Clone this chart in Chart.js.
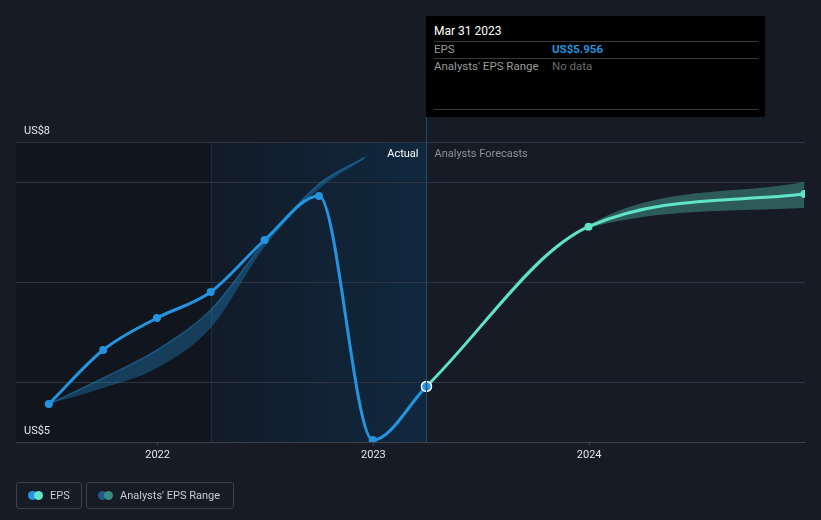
<!DOCTYPE html>
<html>
<head>
<meta charset="utf-8">
<script src="https://cdn.jsdelivr.net/npm/chart.js@4.4.0/dist/chart.umd.min.js"></script>
<style>
  html, body { margin: 0; padding: 0; background: #161b26; }
  body { width: 821px; height: 520px; position: relative; overflow: hidden; font-family: Roboto, "Noto Sans", sans-serif; }
  #wrap { position: absolute; left: 0; top: 0; width: 821px; height: 520px; }
  .tip { position: absolute; left: 426px; top: 16px; width: 339px; height: 101px; background: #000; }
  .tip .date { position: absolute; left: 8px; top: 8px; color: #fff; font-size: 12px; }
  .tip .sep { position: absolute; left: 8px; width: 324px; height: 1px; background: #3a3a3a; }
  .tip .row { position: absolute; left: 8px; font-size: 11.5px; color: #9a9a9a; }
  .tip .val { position: absolute; left: 126px; font-size: 11.5px; }
  .legend { position: absolute; top: 482px; height: 27px; border: 1px solid #3b404b; border-radius: 3px; box-sizing: border-box; color: #c9ccd1; font-size: 11px; line-height: 25px; }
  .legend .dot { position: absolute; top: 8px; width: 9px; height: 9px; border-radius: 50%; }
  .legend span.t { position: absolute; top: 0; }
</style>
</head>
<body>
<div id="wrap"><canvas id="c" width="821" height="520"></canvas></div>

<div class="tip">
  <div class="date">Mar 31 2023</div>
  <div class="sep" style="top:25px"></div>
  <div class="row" style="top:26px">EPS</div>
  <div class="val" style="top:26px;color:#2394df;font-weight:bold">US$5.956</div>
  <div class="sep" style="top:42px"></div>
  <div class="row" style="top:43px">Analysts' EPS Range</div>
  <div class="val" style="top:43px;color:#6b6b6b">No data</div>
  <div class="sep" style="top:93px"></div>
</div>

<div class="legend" style="left:16px;width:66px">
  <div class="dot" style="left:11px;background:#2394df"></div>
  <div class="dot" style="left:17px;background:#5fe3c9"></div>
  <span class="t" style="left:33px">EPS</span>
</div>
<div class="legend" style="left:86px;width:148px">
  <div class="dot" style="left:11px;background:#1f5a8a"></div>
  <div class="dot" style="left:17px;background:#3b8a80"></div>
  <span class="t" style="left:33px">Analysts' EPS Range</span>
</div>

<script>
// quarter-end dates as decimal years
const actualDates = [2021.496, 2021.748, 2021.997, 2022.246, 2022.496, 2022.748, 2022.997, 2023.246];
const actualEps = [5.78, 6.32, 6.64, 6.90, 7.42, 7.86, 5.42, 5.956];

const forecastDates = [2023.246, 2023.997, 2024.997];
const forecastEps = [5.956, 7.553, 7.88];

const pastRangeDates = [2021.496, 2021.748, 2021.997, 2022.246, 2022.496, 2022.748, 2022.96];
const pastRangeLow = [5.78, 5.94, 6.14, 6.54, 7.35, 7.93, 8.235];
const pastRangeHigh = [5.78, 6.04, 6.32, 6.72, 7.40, 7.98, 8.245];

const futureRangeDates = [2023.246, 2023.997, 2024.997];
const futureRangeLow = [5.956, 7.54, 7.74];
const futureRangeHigh = [5.956, 7.57, 8.00];

const yearTicks = [2022, 2023, 2024];
const gridValues = [5.4, 6, 7, 8, 8.4];
const yLabels = { 5.4: 'US$5', 8.4: 'US$8' };

const pastStart = 2022.246;   // Mar 31 2022
const nowDate = 2023.246;     // Mar 31 2023

const pts = (xs, ys) => xs.map((x, i) => ({ x: x, y: ys[i] }));

const BLUE = '#2394df';
const TEAL = '#5fe3c9';

const regions = {
  id: 'regions',
  beforeDraw(chart) {
    const { ctx, chartArea: a, scales: { x } } = chart;
    const x1 = x.getPixelForValue(pastStart);
    const x2 = x.getPixelForValue(nowDate);
    ctx.save();
    ctx.fillStyle = '#11151d';
    ctx.fillRect(a.left, a.top, x1 - a.left, a.bottom - a.top);
    const g = ctx.createLinearGradient(x1, 0, x2, 0);
    g.addColorStop(0, '#121b28');
    g.addColorStop(1, '#10283f');
    ctx.fillStyle = g;
    ctx.fillRect(x1, a.top, x2 - x1, a.bottom - a.top);
    ctx.fillStyle = '#1b2d42';
    ctx.fillRect(Math.round(x1), a.top, 1, a.bottom - a.top);
    ctx.restore();
  },
  afterDraw(chart) {
    const { ctx, chartArea: a, scales: { x, y } } = chart;
    const x2 = x.getPixelForValue(nowDate);
    ctx.save();
    ctx.fillStyle = '#1f4a70';
    ctx.fillRect(Math.round(x2), 117, 1, a.bottom - 117);
    ctx.font = '11px Roboto, sans-serif';
    ctx.textBaseline = 'middle';
    ctx.textAlign = 'right';
    ctx.fillStyle = '#ffffff';
    ctx.fillText('Actual', x2 - 8, a.top + 12);
    ctx.textAlign = 'left';
    ctx.fillStyle = '#8b9098';
    ctx.fillText('Analysts Forecasts', x2 + 8, a.top + 12);
    // min / max value labels
    ctx.fillStyle = '#e6e6e6';
    Object.keys(yLabels).forEach(v => {
      ctx.fillText(yLabels[v], a.left + 8, y.getPixelForValue(+v) - 11);
    });
    ctx.restore();
  }
};

new Chart(document.getElementById('c'), {
  type: 'line',
  data: {
    datasets: [
      {
        data: pts(pastRangeDates, pastRangeLow),
        borderWidth: 0, pointRadius: 0, fill: false,
        cubicInterpolationMode: 'monotone', order: 5
      },
      {
        data: pts(pastRangeDates, pastRangeHigh),
        borderColor: 'rgba(35,148,223,0.4)', borderWidth: 1.5, pointRadius: 0,
        backgroundColor: 'rgba(35,148,223,0.32)', fill: '-1',
        cubicInterpolationMode: 'monotone', order: 5
      },
      {
        data: pts(futureRangeDates, futureRangeLow),
        borderWidth: 0, pointRadius: 0, fill: false,
        cubicInterpolationMode: 'monotone', order: 4
      },
      {
        data: pts(futureRangeDates, futureRangeHigh),
        borderWidth: 0, pointRadius: 0,
        backgroundColor: 'rgba(95,227,201,0.32)', fill: '-1',
        cubicInterpolationMode: 'monotone', order: 4
      },
      {
        data: pts(forecastDates, forecastEps),
        borderColor: TEAL, borderWidth: 3, fill: false,
        pointRadius: [0, 4, 4], pointBackgroundColor: TEAL, pointBorderWidth: 0,
        cubicInterpolationMode: 'monotone', order: 2
      },
      {
        data: pts(actualDates, actualEps),
        borderColor: BLUE, borderWidth: 3, fill: false,
        pointRadius: actualDates.map((d, i) => i === actualDates.length - 1 ? 5 : 4),
        pointBackgroundColor: BLUE,
        pointBorderColor: actualDates.map((d, i) => i === actualDates.length - 1 ? '#ffffff' : BLUE),
        pointBorderWidth: actualDates.map((d, i) => i === actualDates.length - 1 ? 1.5 : 0),
        cubicInterpolationMode: 'monotone', order: 1
      }
    ]
  },
  options: {
    responsive: false,
    animation: false,
    layout: { padding: { top: 142, left: 16, right: 16, bottom: 0 } },
    plugins: { legend: { display: false }, tooltip: { enabled: false } },
    scales: {
      x: {
        type: 'linear', min: 2021.344, max: 2025.0,
        afterBuildTicks: s => { s.ticks = yearTicks.map(v => ({ value: v })); },
        afterFit: s => { s.height = 78; },
        grid: { drawOnChartArea: false, drawTicks: true, tickLength: 4, color: '#3b404b' },
        border: { color: '#3b404b' },
        ticks: { color: '#e6e6e6', font: { size: 11, family: 'Roboto' }, padding: 3, callback: v => String(v) }
      },
      y: {
        min: 5.4, max: 8.4,
        afterBuildTicks: s => { s.ticks = gridValues.map(v => ({ value: v })); },
        afterFit: s => { s.width = 0; },
        grid: { color: '#2f3440', drawTicks: false },
        border: { display: false },
        ticks: { display: false }
      }
    }
  },
  plugins: [regions]
});
</script>
</body>
</html>
